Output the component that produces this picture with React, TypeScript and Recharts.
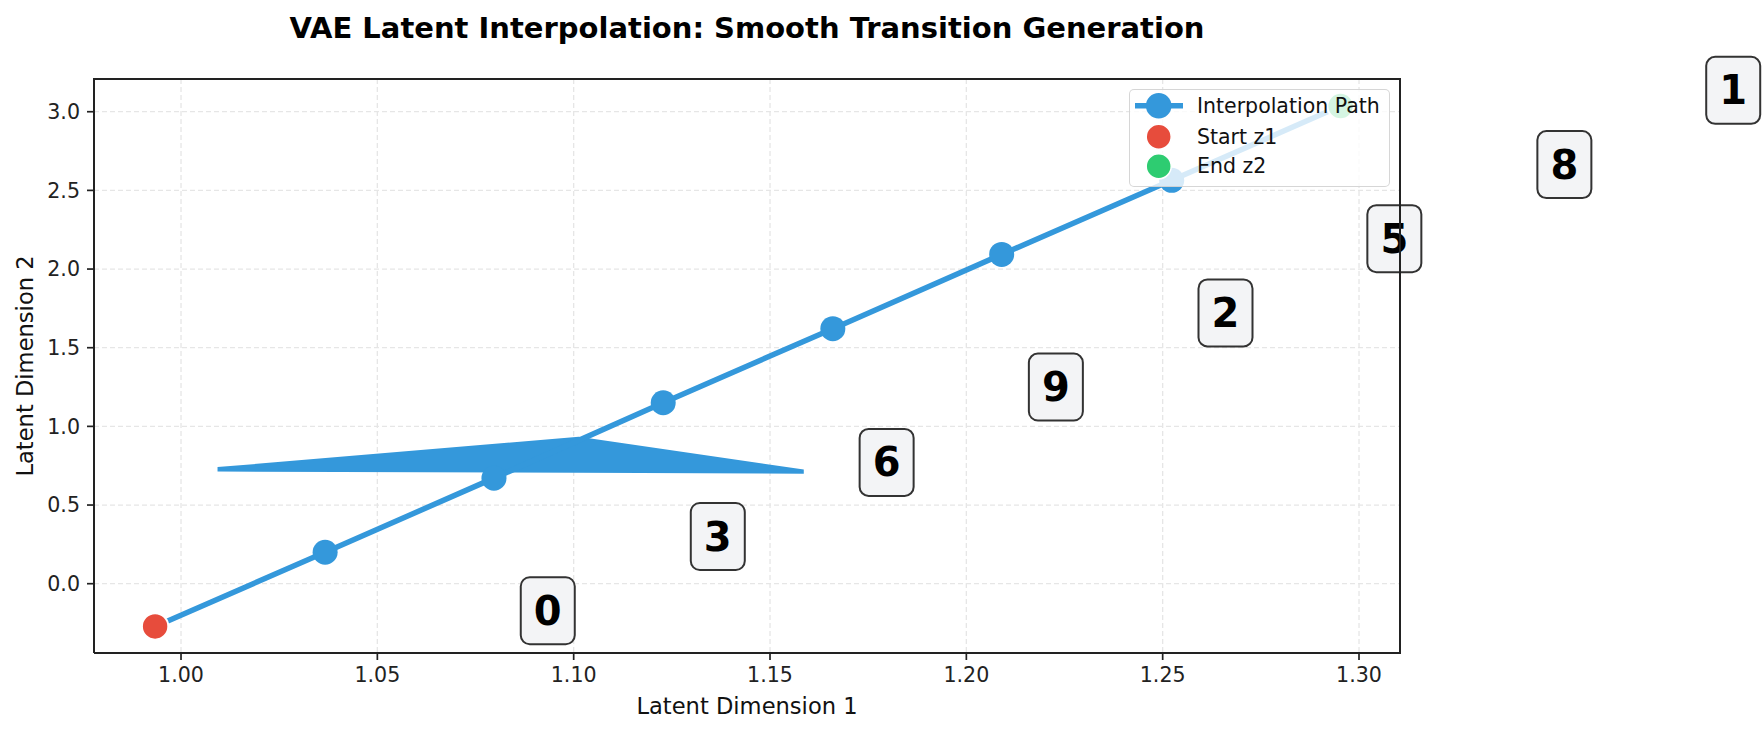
import React from 'react';
import {
  ComposedChart,
  Line,
  Area,
  Scatter,
  XAxis,
  YAxis,
  CartesianGrid,
  ReferenceDot,
} from 'recharts';

// interpolation path in latent space (start z1 ... end z2)
const pathX = [0.9934, 1.0367, 1.0797, 1.1228, 1.166, 1.209, 1.2523, 1.2953];
const pathY = [-0.272, 0.2, 0.671, 1.15, 1.621, 2.093, 2.564, 3.036];

// generated digit annotations
const digitLabels = ['0', '3', '6', '9', '2', '5', '8', '1'];
const labelX = [1.0934, 1.1367, 1.1797, 1.2228, 1.266, 1.309, 1.3523, 1.3953];
const labelY = [-0.172, 0.3, 0.771, 1.25, 1.721, 2.193, 2.664, 3.136];

// the stray arrow shape
const arrowX = [1.0093, 1.1013, 1.1586];
const arrowLo = [0.713, 0.706, 0.699];
const arrowHi = [0.741, 0.934, 0.726];

const xTicks = [1.0, 1.05, 1.1, 1.15, 1.2, 1.25, 1.3];
const yTicks = [0, 0.5, 1, 1.5, 2, 2.5, 3];
const legendNames = ['Interpolation Path', 'Start z1', 'End z2'];

const BLUE = '#3498db';
const RED = '#e74c3c';
const GREEN = '#2ecc71';
const FONT = 'DejaVu Sans';

const pathData = pathX.map((x, i) => ({ x, y: pathY[i] }));
const startData = [{ x: pathX[0], y: pathY[0] }];
const endData = [{ x: pathX[pathX.length - 1], y: pathY[pathY.length - 1] }];
const arrowData = arrowX.map((x, i) => ({ x, band: [arrowLo[i], arrowHi[i]] }));

const tickStyle = { fill: '#222', fontSize: 20.6, fontFamily: FONT };

function DigitBox({ cx, cy, digit }: { cx: number; cy: number; digit: string }) {
  return (
    <g>
      <rect
        x={cx - 27}
        y={cy - 33.5}
        width={54}
        height={67}
        rx={9}
        fill="#f3f4f6"
        stroke="#333"
        strokeWidth={2}
      />
      <text
        x={cx}
        y={cy + 14}
        textAnchor="middle"
        fontSize={40}
        fontWeight="bold"
        fontFamily={FONT}
        fill="#000"
      >
        {digit}
      </text>
    </g>
  );
}

function Marker(color: string) {
  return (p: any) => (
    <circle cx={p.cx} cy={p.cy} r={13.2} fill={color} stroke="#fff" strokeWidth={2} />
  );
}

function LegendBox() {
  const rows = [16.7, 47.7, 77.3];
  const colors = [BLUE, RED, GREEN];
  return (
    <div
      style={{
        position: 'absolute',
        left: 1129,
        top: 89,
        width: 261,
        height: 98,
        boxSizing: 'border-box',
        background: 'rgba(255,255,255,0.8)',
        border: '1.5px solid rgba(204,204,204,0.8)',
        borderRadius: 5,
      }}
    >
      <svg width={261} height={98} style={{ position: 'absolute', left: -1.5, top: -1.5 }}>
        <line x1={6} x2={54} y1={rows[0]} y2={rows[0]} stroke={BLUE} strokeWidth={5.5} />
        {legendNames.map((name, i) => (
          <g key={name}>
            <circle
              cx={29.7}
              cy={rows[i]}
              r={i === 0 ? 12.8 : 12.5}
              fill={colors[i]}
              stroke={i === 0 ? 'none' : '#fff'}
              strokeWidth={1.5}
            />
            <text x={68} y={rows[i] + 6.8} fontSize={20.5} fontFamily={FONT} fill="#111">
              {name}
            </text>
          </g>
        ))}
      </svg>
    </div>
  );
}

export default function App() {
  return (
    <div style={{ position: 'absolute', left: 0, top: 0, width: 1763, height: 734, background: '#fff' }}>
      <div
        style={{
          position: 'absolute',
          left: 747,
          top: 27.5,
          transform: 'translate(-50%, -50%)',
          fontFamily: FONT,
          fontWeight: 'bold',
          fontSize: 29,
          lineHeight: 1,
          whiteSpace: 'nowrap',
          color: '#000',
        }}
      >
        VAE Latent Interpolation: Smooth Transition Generation
      </div>

      <ComposedChart width={1763} height={734} margin={{ top: 79, right: 363, bottom: 51, left: 34 }}>
        <CartesianGrid stroke="#e6e6e6" strokeWidth={1.3} strokeDasharray="5 3" />
        <XAxis
          dataKey="x"
          type="number"
          domain={[0.97784, 1.31044]}
          allowDataOverflow
          ticks={xTicks}
          tickFormatter={(v: number) => v.toFixed(2)}
          tick={tickStyle}
          tickSize={7}
          tickMargin={7}
          height={30}
          stroke="#222"
          axisLine={{ stroke: '#222', strokeWidth: 2 }}
          tickLine={{ stroke: '#222', strokeWidth: 1.7 }}
        />
        <YAxis
          type="number"
          domain={[-0.4405, 3.208]}
          allowDataOverflow
          ticks={yTicks}
          tickFormatter={(v: number) => v.toFixed(1)}
          tick={tickStyle}
          tickSize={7}
          tickMargin={7}
          width={60}
          axisLine={{ stroke: '#222', strokeWidth: 2 }}
          tickLine={{ stroke: '#222', strokeWidth: 1.7 }}
        />
        <Line
          data={pathData}
          dataKey="y"
          type="linear"
          stroke={BLUE}
          strokeWidth={5.5}
          dot={(p: any) => <circle key={`d${p.index}`} cx={p.cx} cy={p.cy} r={12.5} fill={BLUE} />}
          activeDot={false}
          isAnimationActive={false}
        />
        <Area
          data={arrowData}
          dataKey="band"
          type="linear"
          stroke="none"
          fill={BLUE}
          fillOpacity={1}
          activeDot={false}
          dot={false}
          isAnimationActive={false}
        />
        <Scatter data={startData} dataKey="y" shape={Marker(RED)} isAnimationActive={false} />
        <Scatter data={endData} dataKey="y" shape={Marker(GREEN)} isAnimationActive={false} />
        {digitLabels.map((d, i) => (
          <ReferenceDot
            key={d}
            x={labelX[i]}
            y={labelY[i]}
            r={1}
            ifOverflow="visible"
            shape={(p: any) => <DigitBox cx={p.cx} cy={p.cy} digit={d} />}
          />
        ))}
      </ComposedChart>

      {/* top and right spines of the axes frame */}
      <div
        style={{
          position: 'absolute',
          left: 93,
          top: 78,
          width: 1306,
          height: 574,
          borderTop: '2px solid #222',
          borderRight: '2px solid #222',
          pointerEvents: 'none',
        }}
      />

      <LegendBox />

      <div
        style={{
          position: 'absolute',
          left: 747,
          top: 706,
          transform: 'translate(-50%, -50%)',
          fontFamily: FONT,
          fontSize: 22.6,
          lineHeight: 1,
          whiteSpace: 'nowrap',
          color: '#111',
        }}
      >
        Latent Dimension 1
      </div>
      <div
        style={{
          position: 'absolute',
          left: 25,
          top: 366,
          transform: 'translate(-50%, -50%) rotate(-90deg)',
          fontFamily: FONT,
          fontSize: 22.6,
          lineHeight: 1,
          whiteSpace: 'nowrap',
          color: '#111',
        }}
      >
        Latent Dimension 2
      </div>
    </div>
  );
}
